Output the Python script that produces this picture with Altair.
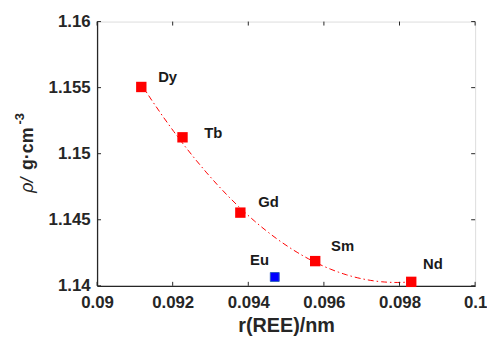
import altair as alt
import pandas as pd

# Data
elements = ["Dy", "Tb", "Gd", "Sm", "Nd"]
radius = [0.09117, 0.09226, 0.09379, 0.09577, 0.09831]
density = [1.15505, 1.15124, 1.14554, 1.14187, 1.14030]

eu_element = ["Eu"]
eu_radius = [0.0947]
eu_density = [1.14067]

x_ticks = [0.09, 0.092, 0.094, 0.096, 0.098, 0.1]
y_ticks = [1.14, 1.145, 1.15, 1.155, 1.16]

red = pd.DataFrame({"element": elements, "r": radius, "rho": density})
blue = pd.DataFrame({"element": eu_element, "r": eu_radius, "rho": eu_density})
xt = pd.DataFrame({"t": x_ticks})
yt = pd.DataFrame({"t": y_ticks})

W, H = 382, 267
FONT = "Liberation Sans"
AX = "#262626"

xscale = alt.Scale(domain=[0.09, 0.1], nice=False, zero=False)
yscale = alt.Scale(domain=[1.14, 1.16], nice=False, zero=False)

xaxis = alt.Axis(values=x_ticks, format="~g", title="r(REE)/nm", grid=False,
                 tickSize=0, labelFont=FONT, labelFontSize=17, labelFontWeight="bold",
                 labelColor=AX, labelPadding=9, titleFont=FONT, titleFontSize=20,
                 titleFontWeight="bold", titleColor=AX, titlePadding=5,
                 domainColor=AX, domainWidth=1.3, labelFlush=False)
yaxis = alt.Axis(values=y_ticks, format="~g", title=None, grid=False,
                 tickSize=0, labelFont=FONT, labelFontSize=17, labelFontWeight="bold",
                 labelColor=AX, labelPadding=7,
                 domainColor=AX, domainWidth=1.3, labelFlush=False)

base_x = alt.X("r:Q", scale=xscale, axis=xaxis)
base_y = alt.Y("rho:Q", scale=yscale, axis=yaxis)

curve = alt.Chart(red).transform_regression(
    "r", "rho", method="poly", order=2, extent=[radius[0], radius[-1]]
).mark_line(color="#ff0000", strokeWidth=1, strokeDash=[6, 3, 1.5, 3]).encode(
    x=base_x, y=base_y
)

red_pts = alt.Chart(red).mark_square(size=110, color="#ff0000", opacity=1).encode(
    x=alt.X("r:Q", scale=xscale), y=alt.Y("rho:Q", scale=yscale)
)
blue_pts = alt.Chart(blue).mark_square(size=80, color="#0000ff", opacity=1,
                                       stroke="#2a5cc0", strokeWidth=1).encode(
    x=alt.X("r:Q", scale=xscale), y=alt.Y("rho:Q", scale=yscale)
)

label_offsets = {"Dy": (17, -10), "Tb": (22, -4), "Gd": (18, -11),
                 "Sm": (16, -15), "Nd": (12, -18)}
labels = []
for el, (dx, dy) in label_offsets.items():
    labels.append(
        alt.Chart(red).transform_filter(alt.datum.element == el).mark_text(
            align="left", baseline="middle", dx=dx, dy=dy, font=FONT,
            fontSize=15, fontWeight="bold", color="#1a1a1a"
        ).encode(x=alt.X("r:Q", scale=xscale), y=alt.Y("rho:Q", scale=yscale),
                 text="element:N")
    )
labels.append(
    alt.Chart(blue).mark_text(align="left", baseline="middle", dx=-25, dy=-17,
                              font=FONT, fontSize=15, fontWeight="bold",
                              color="#1a1a1a").encode(
        x=alt.X("r:Q", scale=xscale), y=alt.Y("rho:Q", scale=yscale),
        text="element:N")
)

# y-axis title built from pieces (italic rho, bold unit, superscript)
title_parts = pd.DataFrame({"s": ["ρ/", "g·cm", "-3"]})
def ypiece(txt, xpos, ypos, size, weight, style):
    return alt.Chart(title_parts).transform_filter(alt.datum.s == txt).mark_text(
        angle=270, align="left", baseline="alphabetic", font=FONT,
        fontSize=size, fontWeight=weight, fontStyle=style, color=AX
    ).encode(text="s:N", x=alt.value(xpos), y=alt.value(ypos))

ytitle = [
    ypiece("ρ/", -65, 173, 18, "normal", "italic"),
    ypiece("g·cm", -65, 150, 18, "bold", "normal"),
    ypiece("-3", -74, 104, 13, "bold", "normal"),
]

# inward ticks on all four sides
tk = dict(color=AX, strokeWidth=1)
xb = alt.Chart(xt).mark_rule(**tk).encode(x=alt.X("t:Q", scale=xscale),
                                          y=alt.value(H), y2=alt.value(H - 4))
xtp = alt.Chart(xt).mark_rule(**tk).encode(x=alt.X("t:Q", scale=xscale),
                                           y=alt.value(0), y2=alt.value(4))
yl = alt.Chart(yt).mark_rule(**tk).encode(y=alt.Y("t:Q", scale=yscale),
                                          x=alt.value(0), x2=alt.value(4))
yr = alt.Chart(yt).mark_rule(**tk).encode(y=alt.Y("t:Q", scale=yscale),
                                          x=alt.value(W), x2=alt.value(W - 4))

chart = alt.layer(curve, red_pts, blue_pts, *labels, *ytitle, xb, xtp, yl, yr).properties(
    width=W, height=H, autosize="none",
    padding={"left": 90, "top": 12, "right": 12, "bottom": 50}
).configure_view(stroke=AX, strokeWidth=1.3).configure(background="white")

chart.save("out.html", embed_options={"renderer": "svg", "actions": False})
